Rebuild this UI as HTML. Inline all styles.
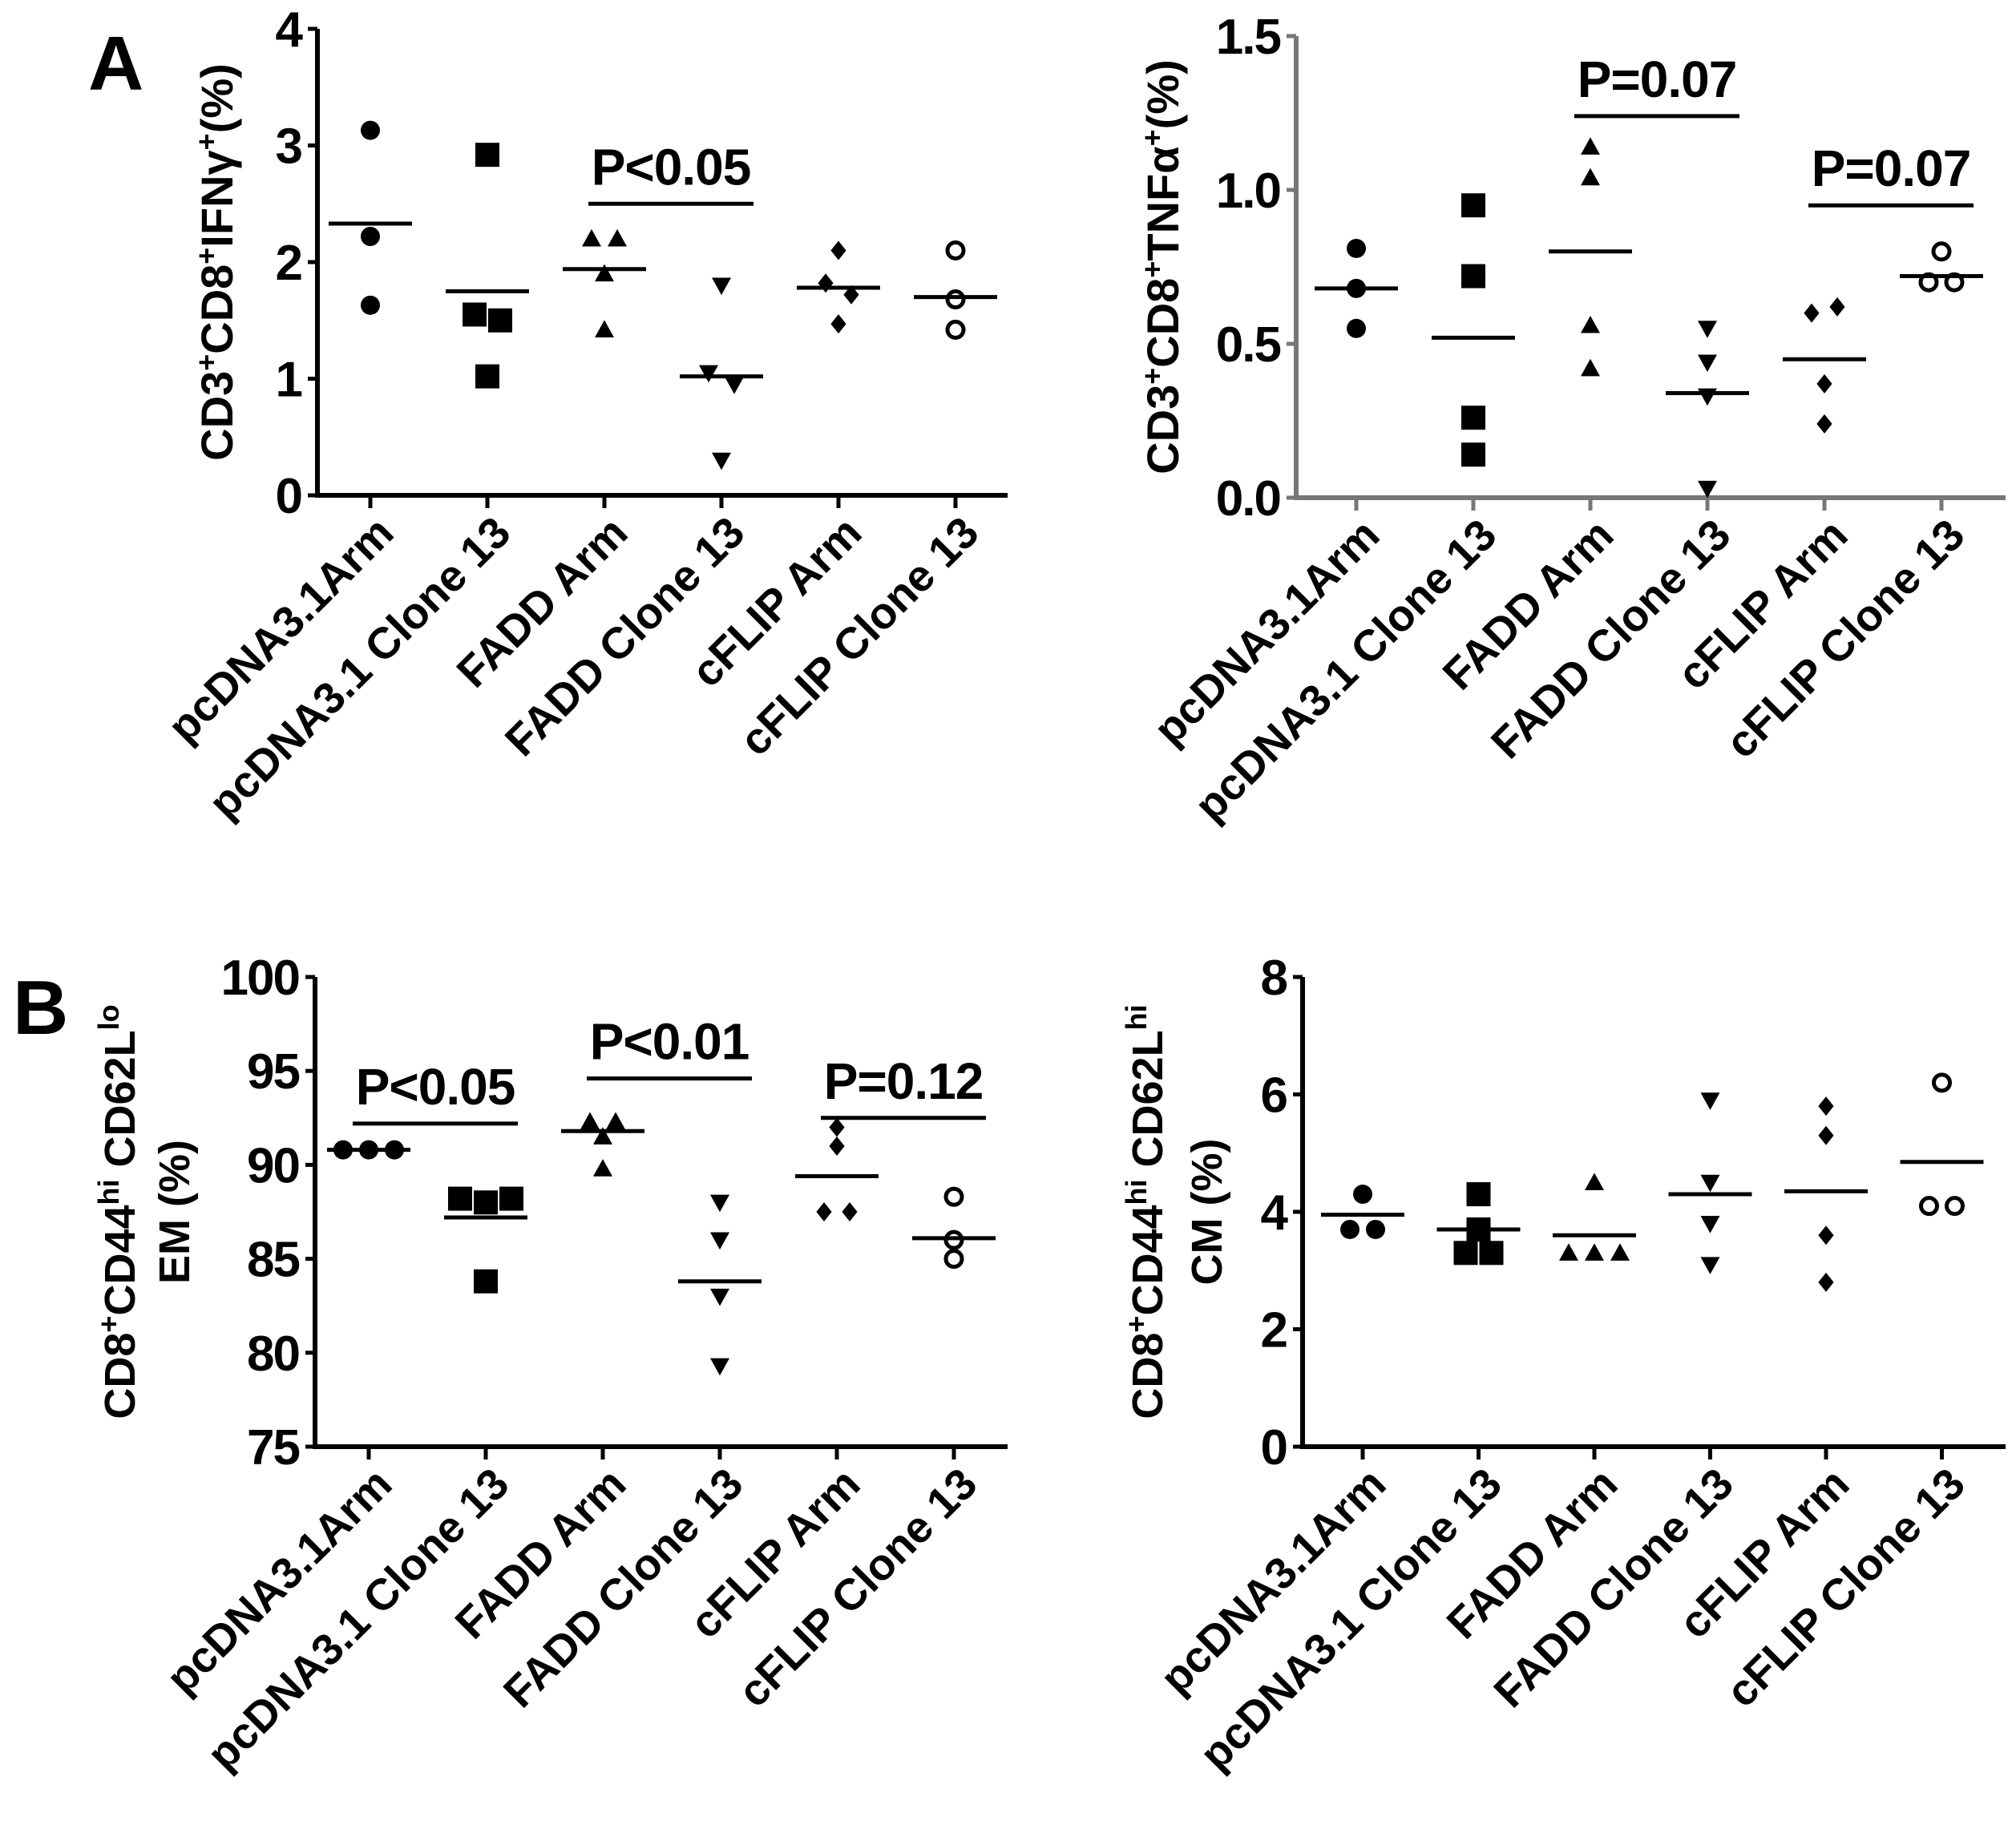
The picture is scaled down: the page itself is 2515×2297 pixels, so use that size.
<!DOCTYPE html>
<html><head><meta charset="utf-8"><style>
html,body{margin:0;padding:0;background:#fff}
svg{display:block;font-family:"Liberation Sans",Arial,sans-serif;font-weight:bold}
</style></head><body>
<svg id="fig" width="2515" height="2297" viewBox="0 0 2515 2297" xmlns="http://www.w3.org/2000/svg">
<text x="110" y="112" font-size="96">A</text>
<text x="16" y="1290" font-size="96">B</text>
</svg>
<script>
const categories=["pcDNA3.1Arm","pcDNA3.1 Clone 13","FADD Arm","FADD Clone 13","cFLIP Arm","cFLIP Clone 13"];
const markers=["circle","square","tri","itri","diamond","open"];
const ifnValues=[[3.13,2.22,1.63],[2.92,1.55,1.5,1.02],[2.2,2.2,1.9,1.42],[1.8,1.05,0.95,0.3],[2.1,1.82,1.72,1.47],[2.1,1.68,1.42]];
const ifnMeans=[2.33,1.75,1.94,1.02,1.78,1.7];
const ifnTicks=["0","1","2","3","4"];
const tnfValues=[[0.81,0.68,0.55],[0.95,0.72,0.26,0.14],[1.14,1.04,0.56,0.42],[0.55,0.44,0.33,0.03],[0.6,0.62,0.37,0.24],[0.8,0.7,0.7]];
const tnfMeans=[0.68,0.52,0.8,0.34,0.45,0.72];
const tnfTicks=["0.0","0.5","1.0","1.5"];
const emValues=[[90.8,90.8,90.8],[88.2,88,88.2,83.8],[92.3,92.3,91.5,89.8],[88,86,83,79.3],[92,91,87.5,87.5],[88.3,86,85]];
const emMeans=[90.8,87.2,91.8,83.8,89.4,86.1];
const emTicks=["75","80","85","90","95","100"];
const cmValues=[[4.3,3.7,3.7],[4.3,3.7,3.3,3.3],[4.5,3.3,3.3,3.3],[5.9,4.5,3.8,3.1],[5.8,5.3,3.6,2.8],[6.2,4.1,4.1]];
const cmMeans=[3.95,3.7,3.6,4.3,4.35,4.85];
const cmTicks=["0","2","4","6","8"];
const ifnP=[{a:2,b:3,y:2.5,t:"P<0.05"}];
const tnfP=[{a:2,b:3,y:1.24,t:"P=0.07"},{a:4,b:5,y:0.95,t:"P=0.07"}];
const emP=[{a:0,b:1,y:92.2,t:"P<0.05"},{a:2,b:3,y:94.6,t:"P<0.01"},{a:4,b:5,y:92.5,t:"P=0.12"}];
const cmP=[];

const NS="http://www.w3.org/2000/svg";
const svg=document.getElementById('fig');
function mk(tag,at,parent){const e=document.createElementNS(NS,tag);for(const k in at)e.setAttribute(k,at[k]);(parent||svg).appendChild(e);return e;}

function panel(cfg){
  const g=mk('g',{});
  
  
  const lo=+cfg.ticks[0],hi=+cfg.ticks[cfg.ticks.length-1];
  const y=v=>cfg.bottom-(v-lo)/(hi-lo)*(cfg.bottom-cfg.top);
  const x=i=>cfg.x0+i*cfg.dx;
  const ax=cfg.axisColor;
  const ya=mk('line',{x1:cfg.left,y1:cfg.top,x2:cfg.left,y2:cfg.bottom,stroke:ax,'stroke-width':6},g);
  
  const xa=mk('line',{x1:cfg.left-3,y1:cfg.bottom,x2:cfg.right,y2:cfg.bottom,stroke:ax,'stroke-width':6},g);
  
  cfg.ticks.forEach(t=>{
    const yy=y(+t);
    mk('line',{x1:cfg.left-12,y1:yy,x2:cfg.left,y2:yy,stroke:ax,'stroke-width':5},g);
    const tx=mk('text',{x:cfg.left-20,y:yy+22,'font-size':62,'text-anchor':'end','letter-spacing':-2},g);
    tx.textContent=t;
    
  });
  categories.forEach((c,i)=>{
    const xx=x(i);
    mk('line',{x1:xx,y1:cfg.bottom,x2:xx,y2:cfg.bottom+16,stroke:ax,'stroke-width':5},g);
    const ax2=xx+32,ay=cfg.bottom+50;
    const tx=mk('text',{x:ax2,y:ay,'font-size':55,'text-anchor':'end',transform:`rotate(-45 ${ax2} ${ay})`},g);
    tx.textContent=c;
    
  });
  cfg.titles.forEach((tl,k)=>{
    const cy=(cfg.top+cfg.bottom)/2;
    const tx=mk('text',{x:tl.x,y:cy,'font-size':tl.fs||58,'text-anchor':'middle',transform:`rotate(-90 ${tl.x} ${cy})`},g);
    tx.innerHTML=tl.html;
    
  });
  cfg.values.forEach((vals,i)=>{
    const cx=x(i);
    const pos=vals.map((v,j)=>{
      const near=vals.map((w,k)=>k).filter(k=>Math.abs(vals[k]-v)<(hi-lo)*0.03);
      const idx=near.indexOf(j),n=near.length;
      return cx+(idx-(n-1)/2)*32;
    });
    vals.forEach((v,j)=>{
      const px=pos[j],py=y(v),m=markers[i],s=12;
      let e;
      if(m==='circle')e=mk('circle',{cx:px,cy:py,r:s},g);
      else if(m==='square')e=mk('rect',{x:px-s-3,y:py-s-3,width:2*s+6,height:2*s+6},g);
      else if(m==='tri')e=mk('polygon',{points:`${px},${py-s} ${px-s},${py+s*0.8} ${px+s},${py+s*0.8}`},g);
      else if(m==='itri')e=mk('polygon',{points:`${px},${py+s} ${px-s},${py-s*0.8} ${px+s},${py-s*0.8}`},g);
      else if(m==='diamond')e=mk('polygon',{points:`${px},${py-s} ${px+s*0.8},${py} ${px},${py+s} ${px-s*0.8},${py}`},g);
      else e=mk('circle',{cx:px,cy:py,r:s-2,fill:'none',stroke:'#000','stroke-width':5},g);
      
      
    });
    const ml=mk('line',{x1:cx-52,y1:y(cfg.means[i]),x2:cx+52,y2:y(cfg.means[i]),stroke:'#000','stroke-width':5},g);
    
  });
  cfg.p.forEach(p=>{
    const x1=x(p.a)-20,x2=x(p.b)+40,yy=y(p.y);
    const l=mk('line',{x1:x1,y1:yy,x2:x2,y2:yy,stroke:'#000','stroke-width':5},g);
    
    const t=mk('text',{x:(x1+x2)/2,y:yy-24,'font-size':64,'text-anchor':'middle','letter-spacing':-1},g);
    t.textContent=p.t;
    
  });
}
const sup=(s)=>`<tspan font-size="36" dy="-20">${s}</tspan><tspan dy="20">`;
panel({name:'ifn-gamma-chart',left:396,right:1257,top:36,bottom:618,x0:462,dx:146,ticks:ifnTicks,values:ifnValues,means:ifnMeans,p:ifnP,axisColor:'#000',
  titles:[{x:290,fs:56,html:`CD3${sup('+')}CD8</tspan>${sup('+')}IFNγ</tspan>${sup('+')}(%)</tspan>`}]});
panel({name:'tnf-alpha-chart',left:1617,right:2502,top:45,bottom:621,x0:1692,dx:146,ticks:tnfTicks,values:tnfValues,means:tnfMeans,p:tnfP,axisColor:'#777',
  titles:[{x:1470,fs:56,html:`CD3${sup('+')}CD8</tspan>${sup('+')}TNFα</tspan>${sup('+')}(%)</tspan>`}]});
panel({name:'effector-memory-chart',left:393,right:1257,top:1219,bottom:1805,x0:460,dx:146,ticks:emTicks,values:emValues,means:emMeans,p:emP,axisColor:'#000',
  titles:[{x:168,fs:54,html:`CD8${sup('+')}CD44</tspan>${sup('hi')} CD62L</tspan>${sup('lo')}</tspan>`},{x:236,fs:54,html:'EM (%)'}]});
panel({name:'central-memory-chart',left:1625,right:2502,top:1219,bottom:1805,x0:1700,dx:144.5,ticks:cmTicks,values:cmValues,means:cmMeans,p:cmP,axisColor:'#000',
  titles:[{x:1450,fs:54,html:`CD8${sup('+')}CD44</tspan>${sup('hi')} CD62L</tspan>${sup('hi')}</tspan>`},{x:1524,fs:54,html:'CM (%)'}]});
</script>
</body></html>
